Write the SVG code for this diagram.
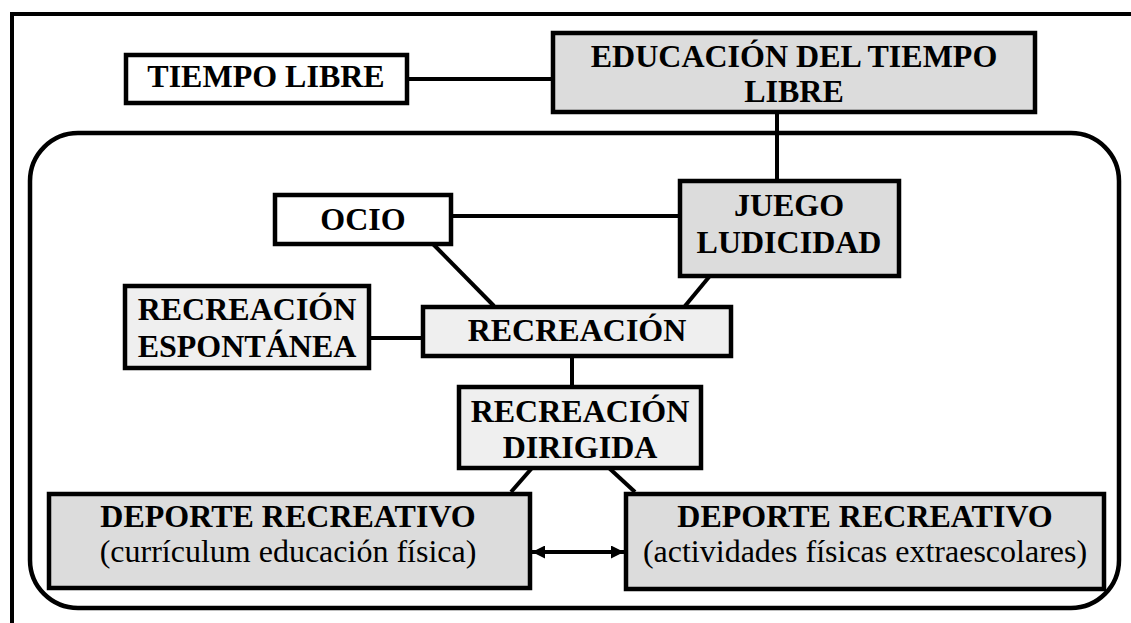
<svg xmlns="http://www.w3.org/2000/svg" width="1131" height="623" viewBox="0 0 1131 623">
<style>
.box{stroke:#000;stroke-width:4.5}
.w{fill:#fff}
.g{fill:#dcdcdc}
.l{fill:#efefef}
.t{font-family:"Liberation Serif","Times New Roman",serif;font-size:32px;font-weight:bold;text-anchor:middle;fill:#000}
.n{font-weight:normal}
.c{stroke:#000;stroke-width:4;fill:none}
</style>
<defs>
<marker id="ah" viewBox="0 0 10 10" refX="10" refY="5" markerWidth="15" markerHeight="13" markerUnits="userSpaceOnUse" orient="auto-start-reverse">
<path d="M0,0 L10,5 L0,10 z" fill="#000"/>
</marker>
</defs>
<rect width="1131" height="623" fill="#fff"/>
<rect x="12" y="14" width="1200" height="700" fill="none" stroke="#000" stroke-width="4"/>
<rect x="30" y="133" width="1089" height="475" rx="48" ry="48" fill="none" stroke="#000" stroke-width="4.5"/>
<g id="connectors">
<line class="c" x1="407" y1="79" x2="553" y2="79"/>
<line class="c" x1="777" y1="112" x2="777" y2="181"/>
<line class="c" x1="451" y1="216" x2="680" y2="216"/>
<line class="c" x1="433" y1="244" x2="494" y2="306"/>
<line class="c" x1="709" y1="277" x2="685" y2="306"/>
<line class="c" x1="369" y1="338" x2="423" y2="338"/>
<line class="c" x1="572" y1="356" x2="572" y2="387"/>
<line class="c" x1="532" y1="468" x2="511" y2="492"/>
<line class="c" x1="609" y1="468" x2="635" y2="492"/>
<line class="c" x1="532" y1="552" x2="624" y2="552" marker-start="url(#ah)" marker-end="url(#ah)"/>
</g>
<g id="tiempo-libre">
<rect class="box w" x="126" y="55" width="281" height="48"/>
<text class="t" x="266" y="87">TIEMPO LIBRE</text>
</g>
<g id="educacion">
<rect class="box g" x="553" y="33" width="482" height="79"/>
<text class="t" x="794" y="67">EDUCACIÓN DEL TIEMPO</text>
<text class="t" x="794" y="102">LIBRE</text>
</g>
<g id="ocio">
<rect class="box w" x="275" y="195" width="176" height="49"/>
<text class="t" x="363" y="230">OCIO</text>
</g>
<g id="juego">
<rect class="box g" x="680" y="181" width="219" height="95"/>
<text class="t" x="789" y="216">JUEGO</text>
<text class="t" x="789" y="253">LUDICIDAD</text>
</g>
<g id="espontanea">
<rect class="box l" x="125" y="286" width="244" height="82"/>
<text class="t" x="247" y="320">RECREACIÓN</text>
<text class="t" x="247" y="357">ESPONTÁNEA</text>
</g>
<g id="recreacion">
<rect class="box l" x="423" y="307" width="308" height="49"/>
<text class="t" x="577" y="341">RECREACIÓN</text>
</g>
<g id="dirigida">
<rect class="box l" x="459" y="387" width="242" height="81"/>
<text class="t" x="580" y="422">RECREACIÓN</text>
<text class="t" x="580" y="458">DIRIGIDA</text>
</g>
<g id="deporte-curriculum">
<rect class="box g" x="49" y="494" width="481" height="94"/>
<text class="t" x="288" y="527">DEPORTE RECREATIVO</text>
<text class="t n" x="288" y="562">(currículum educación física)</text>
</g>
<g id="deporte-extraescolar">
<rect class="box g" x="626" y="494" width="478" height="95"/>
<text class="t" x="865" y="527">DEPORTE RECREATIVO</text>
<text class="t n" x="865" y="562">(actividades físicas extraescolares)</text>
</g>
</svg>
